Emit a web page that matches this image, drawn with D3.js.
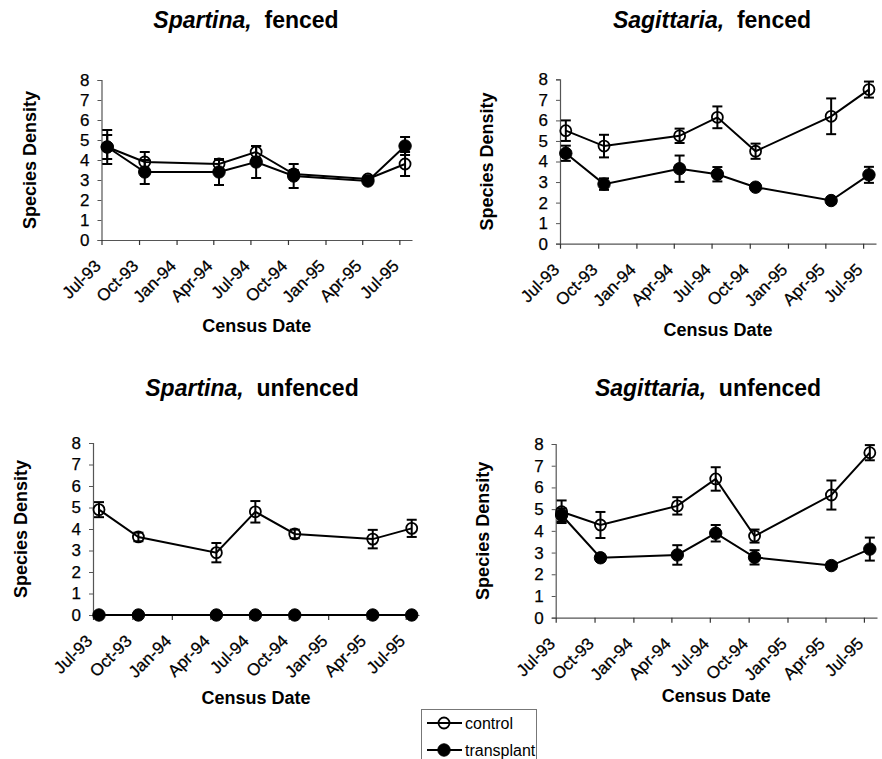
<!DOCTYPE html>
<html>
<head>
<meta charset="utf-8">
<script src="https://cdnjs.cloudflare.com/ajax/libs/d3/7.8.5/d3.min.js"></script>
<style>
  body { margin: 0; background: #fff; }
  svg { display: block; font-family: "Liberation Sans", Arial, sans-serif; }
  .tick text { font-size: 17px; fill: #000; stroke: #000; stroke-width: 0.25px; }
  .axis-title { font-size: 18px; font-weight: bold; }
  .panel-title { font-size: 23px; font-weight: bold; }
</style>
</head>
<body>
<svg width="882" height="759"></svg>
<script>
// census dates (sampling was around the middle of the month)
var censusDates = ["1993-07-15", "1993-10-15", "1994-04-15", "1994-07-15",
                   "1994-10-15", "1995-04-15", "1995-07-15"];
var tickDates = ["1993-07-01", "1993-10-01", "1994-01-01", "1994-04-01", "1994-07-01",
                 "1994-10-01", "1995-01-01", "1995-04-01", "1995-07-01"];
var tickLabels = ["Jul-93", "Oct-93", "Jan-94", "Apr-94", "Jul-94",
                  "Oct-94", "Jan-95", "Apr-95", "Jul-95"];
var yTicks = [0, 1, 2, 3, 4, 5, 6, 7, 8];

// Spartina, fenced
var spFencedControl = [4.65, 3.9, 3.8, 4.4, 3.3, 3.05, 3.8];
var spFencedControlErr = [0.85, 0.5, 0.2, 0.3, 0.2, 0.15, 0.6];
var spFencedTransplant = [4.65, 3.4, 3.4, 3.9, 3.2, 2.95, 4.7];
var spFencedTransplantErr = [0.6, 0.6, 0.65, 0.8, 0.6, 0.15, 0.45];

// Sagittaria, fenced
var saFencedControl = [5.5, 4.75, 5.25, 6.15, 4.5, 6.2, 7.5];
var saFencedControlErr = [0.5, 0.55, 0.35, 0.53, 0.37, 0.87, 0.39];
var saFencedTransplant = [4.4, 2.9, 3.65, 3.38, 2.75, 2.1, 3.35];
var saFencedTransplantErr = [0.37, 0.28, 0.64, 0.35, 0.1, 0.15, 0.39];

// Spartina, unfenced
var spUnfencedControl = [4.9, 3.63, 2.9, 4.8, 3.77, 3.53, 4.03];
var spUnfencedControlErr = [0.35, 0.2, 0.45, 0.5, 0.2, 0.43, 0.4];
var spUnfencedTransplant = [0, 0, 0, 0, 0, 0, 0];
var spUnfencedTransplantErr = [0, 0, 0, 0, 0, 0, 0];

// Sagittaria, unfenced
var saUnfencedControl = [4.88, 4.27, 5.15, 6.39, 3.76, 5.65, 7.6];
var saUnfencedControlErr = [0.52, 0.6, 0.4, 0.54, 0.3, 0.67, 0.35];
var saUnfencedTransplant = [4.73, 2.76, 2.89, 3.89, 2.78, 2.4, 3.16];
var saUnfencedTransplantErr = [0.3, 0.15, 0.45, 0.38, 0.33, 0.15, 0.53];

var svg = d3.select("svg");
var parseDate = d3.timeParse("%Y-%m-%d");

var panels = [
    {genus: "Spartina,", rest: "fenced", left: 101.5, right: 412, top: 80, bottom: 240,
     titleX: 246, titleY: 28, yTitleX: 30, xTitleY: 332,
     control: spFencedControl, controlErr: spFencedControlErr,
     transplant: spFencedTransplant, transplantErr: spFencedTransplantErr},
    {genus: "Sagittaria,", rest: "fenced", left: 560, right: 876, top: 79.3, bottom: 243.7,
     titleX: 712, titleY: 28, yTitleX: 487, xTitleY: 336,
     control: saFencedControl, controlErr: saFencedControlErr,
     transplant: saFencedTransplant, transplantErr: saFencedTransplantErr},
    {genus: "Spartina,", rest: "unfenced", left: 93, right: 419, top: 443, bottom: 615,
     titleX: 252, titleY: 396, yTitleX: 21, xTitleY: 704,
     control: spUnfencedControl, controlErr: spUnfencedControlErr,
     transplant: spUnfencedTransplant, transplantErr: spUnfencedTransplantErr},
    {genus: "Sagittaria,", rest: "unfenced", left: 555.7, right: 877, top: 444, bottom: 617.7,
     titleX: 708, titleY: 396, yTitleX: 483, xTitleY: 702,
     control: saUnfencedControl, controlErr: saUnfencedControlErr,
     transplant: saUnfencedTransplant, transplantErr: saUnfencedTransplantErr}
];

panels.forEach(drawPanel);
drawLegend();

function drawPanel(p) {
    var x = d3.scaleTime()
        .domain([parseDate("1993-07-01"), parseDate("1995-08-01")])
        .range([p.left, p.right]);
    var y = d3.scaleLinear().domain([0, 8]).range([p.bottom, p.top]);

    var g = svg.append("g");

    // title: genus in italics
    var title = g.append("text")
        .attr("class", "panel-title")
        .attr("x", p.titleX)
        .attr("y", p.titleY)
        .attr("text-anchor", "middle");
    title.append("tspan").attr("font-style", "italic").text(p.genus);
    title.append("tspan").text("\u00a0 " + p.rest);

    // y axis
    var yAxis = g.append("g")
        .attr("transform", "translate(" + p.left + ",0)")
        .call(d3.axisLeft(y).tickValues(yTicks).tickFormat(d3.format("d")).tickSize(4).tickPadding(8));
    yAxis.select(".domain").attr("stroke", "#555").attr("stroke-width", 1.2);
    yAxis.selectAll(".tick line").attr("stroke", "#555");

    // x axis
    var xAxis = g.append("g")
        .attr("transform", "translate(0," + p.bottom + ")")
        .call(d3.axisBottom(x).tickValues(tickDates.map(parseDate))
            .tickFormat(function(d, i) { return tickLabels[i]; })
            .tickSize(5).tickSizeOuter(0));
    xAxis.select(".domain").attr("stroke", "#555").attr("stroke-width", 1.2);
    xAxis.selectAll(".tick line").attr("stroke", "#333").attr("stroke-width", 1.2);
    xAxis.selectAll(".tick text")
        .attr("text-anchor", "end")
        .attr("dy", null)
        .attr("y", null)
        .attr("transform", "translate(0,27) rotate(-45)");

    // axis titles
    g.append("text")
        .attr("class", "axis-title")
        .attr("transform", "translate(" + p.yTitleX + "," + ((p.top + p.bottom) / 2) + ") rotate(-90)")
        .attr("text-anchor", "middle")
        .attr("dy", "0.35em")
        .text("Species Density");
    g.append("text")
        .attr("class", "axis-title")
        .attr("x", (p.left + p.right) / 2)
        .attr("y", p.xTitleY)
        .attr("text-anchor", "middle")
        .text("Census Date");

    var series = [
        {values: p.transplant, err: p.transplantErr, filled: true},
        {values: p.control, err: p.controlErr, filled: false}
    ];

    var line = d3.line()
        .x(function(d, i) { return x(parseDate(censusDates[i])); })
        .y(function(d) { return y(d); });

    series.forEach(function(s) {
        g.append("path")
            .datum(s.values)
            .attr("fill", "none")
            .attr("stroke", "#000")
            .attr("stroke-width", 2)
            .attr("d", line);
    });

    series.forEach(function(s) {
        var eb = g.append("g").selectAll("g")
            .data(s.values.map(function(v, i) { return {date: parseDate(censusDates[i]), v: v, e: s.err[i]}; })
                .filter(function(d) { return d.e > 0; }))
            .enter().append("g")
            .attr("stroke", "#000")
            .attr("stroke-width", 2);
        eb.append("line")
            .attr("x1", function(d) { return x(d.date); })
            .attr("x2", function(d) { return x(d.date); })
            .attr("y1", function(d) { return y(d.v - d.e); })
            .attr("y2", function(d) { return y(d.v + d.e); });
        eb.append("line")
            .attr("x1", function(d) { return x(d.date) - 5; })
            .attr("x2", function(d) { return x(d.date) + 5; })
            .attr("y1", function(d) { return y(d.v + d.e); })
            .attr("y2", function(d) { return y(d.v + d.e); });
        eb.append("line")
            .attr("x1", function(d) { return x(d.date) - 5; })
            .attr("x2", function(d) { return x(d.date) + 5; })
            .attr("y1", function(d) { return y(d.v - d.e); })
            .attr("y2", function(d) { return y(d.v - d.e); });

        g.append("g").selectAll("circle")
            .data(s.values)
            .enter().append("circle")
            .attr("cx", function(d, i) { return x(parseDate(censusDates[i])); })
            .attr("cy", function(d) { return y(d); })
            .attr("r", s.filled ? 6.2 : 5.5)
            .attr("fill", s.filled ? "#000" : "none")
            .attr("stroke", "#000")
            .attr("stroke-width", s.filled ? 1 : 1.8);
    });
}

function drawLegend() {
    var lg = svg.append("g");
    lg.append("rect")
        .attr("x", 421.5).attr("y", 709.5)
        .attr("width", 115).attr("height", 60)
        .attr("fill", "#fff").attr("stroke", "#777").attr("stroke-width", 1);
    var items = [{label: "control", filled: false, y: 723}, {label: "transplant", filled: true, y: 750}];
    items.forEach(function(it) {
        lg.append("line")
            .attr("x1", 427).attr("x2", 462)
            .attr("y1", it.y).attr("y2", it.y)
            .attr("stroke", "#000").attr("stroke-width", 2);
        lg.append("circle")
            .attr("cx", 444).attr("cy", it.y)
            .attr("r", it.filled ? 6.2 : 5.5)
            .attr("fill", it.filled ? "#000" : "none")
            .attr("stroke", "#000").attr("stroke-width", it.filled ? 1 : 1.8);
        lg.append("text")
            .attr("x", 465).attr("y", it.y)
            .attr("dy", "0.35em")
            .attr("font-size", 16)
            .text(it.label);
    });
}
</script>
</body>
</html>
